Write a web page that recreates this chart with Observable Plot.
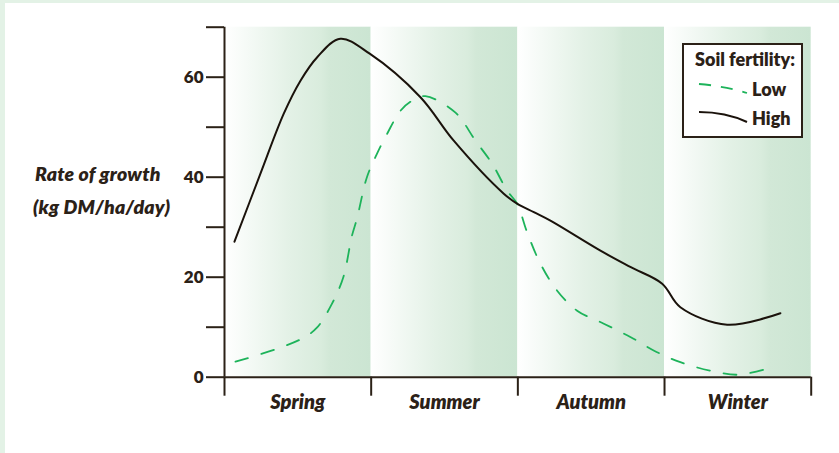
<!DOCTYPE html>
<html>
<head>
<meta charset="utf-8">
<script src="https://cdn.jsdelivr.net/npm/d3@7"></script>
<script src="https://cdn.jsdelivr.net/npm/@observablehq/plot@0.6"></script>
<style>
  html, body { margin: 0; padding: 0; }
  body { width: 839px; height: 453px; background: #e3f2e6; position: relative; overflow: hidden; font-family: Lato, "Open Sans", sans-serif; color: #2b2117; }
  #panel { position: absolute; left: 5px; top: 3px; right: 0; bottom: 0; background: #ffffff; }
  #chart { position: absolute; left: 0; top: 0; }
  .ylab { position: absolute; font-weight: 800; font-style: italic; font-size: 19.5px; white-space: nowrap; letter-spacing: 0.2px; }
  #legend { position: absolute; left: 682px; top: 43px; width: 117px; height: 91px; border: 2px solid #2b2117; background: #fff; }
</style>
</head>
<body>
<div id="panel"></div>
<div id="chart"></div>
<div class="ylab" style="left:35px; top:162px;">Rate of growth</div>
<div class="ylab" style="left:33px; top:195px;">(kg DM/ha/day)</div>
<div id="legend"></div>
<script>
// Seasons (x in season units: 0 = start of Spring, 4 = end of Winter)
const seasons = ["Spring", "Summer", "Autumn", "Winter"];
const yTicks = [0, 10, 20, 30, 40, 50, 60, 70];
const yLabels = [0, 20, 40, 60];

// High soil fertility
const highX = [0.068, 0.245, 0.404, 0.518, 0.632, 0.79, 0.99, 1.336, 1.563, 1.904, 1.995, 2.109, 2.222, 2.563, 2.77, 2.984, 3.108, 3.427, 3.79];
const highY = [27.1, 40.7, 52.7, 59.3, 64.0, 67.7, 64.7, 56.0, 47.3, 36.7, 34.7, 33.0, 31.3, 25.3, 22.0, 18.7, 14.0, 10.5, 12.8];

// Low soil fertility
const lowX = [0.075, 0.36, 0.54, 0.63, 0.733, 0.81, 0.869, 0.903, 0.971, 1.04, 1.109, 1.2, 1.28, 1.37, 1.575, 1.711, 1.825, 1.927, 1.995, 2.063, 2.154, 2.268, 2.404, 2.586, 2.77, 2.929, 3.108, 3.313, 3.506, 3.756];
const lowY = [3.1, 5.7, 7.9, 9.9, 14.7, 20.0, 28.3, 31.7, 40.0, 44.7, 48.7, 53.3, 55.3, 56.2, 52.9, 47.3, 42.7, 37.3, 34.7, 29.0, 22.7, 17.3, 13.3, 10.7, 8.0, 5.3, 3.0, 1.3, 0.5, 2.2];

const ink = "#2b2117";
const green = "#1db35a";

const bands = seasons.map((s, i) => ({season: s, x1: i, x2: i + 1}));
const high = highX.map((x, i) => ({x, y: highY[i]}));
const low = lowX.map((x, i) => ({x, y: lowY[i]}));

const defs = () => {
  const d = d3.create("svg:defs");
  const g = d.append("linearGradient").attr("id", "bandGrad").attr("x1", 0).attr("x2", 1).attr("y1", 0).attr("y2", 0);
  g.append("stop").attr("offset", "0").attr("stop-color", "#ffffff");
  g.append("stop").attr("offset", "0.45").attr("stop-color", "#e3f1e6");
  g.append("stop").attr("offset", "0.66").attr("stop-color", "#d9ecdd");
  g.append("stop").attr("offset", "0.72").attr("stop-color", "#d2e8d7");
  g.append("stop").attr("offset", "1").attr("stop-color", "#cbe5d2");
  return d.node();
};

const plot = Plot.plot({
  width: 839,
  height: 453,
  marginLeft: 224,
  marginRight: 28.3,
  marginTop: 26.7,
  marginBottom: 76.3,
  style: {background: "transparent", fontFamily: "Lato, 'Open Sans', sans-serif", fontSize: "16px", fontWeight: 800, color: ink},
  x: {domain: [0, 4], label: null},
  y: {domain: [0, 70], label: null},
  marks: [
    defs,
    Plot.rect(bands, {x1: "x1", x2: "x2", y1: 0, y2: 70, fill: "url(#bandGrad)"}),
    Plot.axisY({ticks: yTicks, tickSize: 18, strokeWidth: 2, stroke: ink, label: null, tickFormat: () => ""}),
    Plot.text(yLabels, {x: 0, y: d => d, text: d => String(d), dx: -21, textAnchor: "end", fontSize: 17, fontWeight: 800, fill: ink}),
    Plot.axisX({ticks: [0, 1, 2, 3, 4], tickSize: 19, strokeWidth: 2, stroke: ink, label: null, tickFormat: () => ""}),
    Plot.text(bands, {x: d => d.x1 + 0.5, y: 0, text: "season", dy: 25, fontSize: 20, fontStyle: "italic", fontWeight: 800, fill: ink, lineAnchor: "middle", letterSpacing: "1.2px"}),
    Plot.ruleX([0], {y1: 0, y2: 70, stroke: ink, strokeWidth: 2}),
    Plot.ruleY([0], {x1: 0, x2: 4, stroke: ink, strokeWidth: 2}),
    Plot.line(low, {x: "x", y: "y", curve: "catmull-rom", stroke: green, strokeWidth: 1.8, strokeDasharray: "13,14"}),
    Plot.line(high, {x: "x", y: "y", curve: "catmull-rom", stroke: "#1a120b", strokeWidth: 2})
  ]
});
document.getElementById("chart").appendChild(plot);

// Legend
const leg = d3.select("#legend").append("svg").attr("width", 117).attr("height", 91)
  .style("font-family", "Lato, 'Open Sans', sans-serif").style("font-weight", 800).style("fill", ink);
leg.append("text").attr("x", 11).attr("y", 21).attr("font-size", 18).text("Soil fertility:");
leg.append("path").attr("d", "M15,39 Q40,41 63,48").attr("fill", "none").attr("stroke", green).attr("stroke-width", 1.8).attr("stroke-dasharray", "12,10");
leg.append("text").attr("x", 68).attr("y", 51).attr("font-size", 18).text("Low");
leg.append("path").attr("d", "M15,67 C35,67 48,70 63,77").attr("fill", "none").attr("stroke", "#1a120b").attr("stroke-width", 2);
leg.append("text").attr("x", 68).attr("y", 80).attr("font-size", 18).text("High");
</script>
</body>
</html>
